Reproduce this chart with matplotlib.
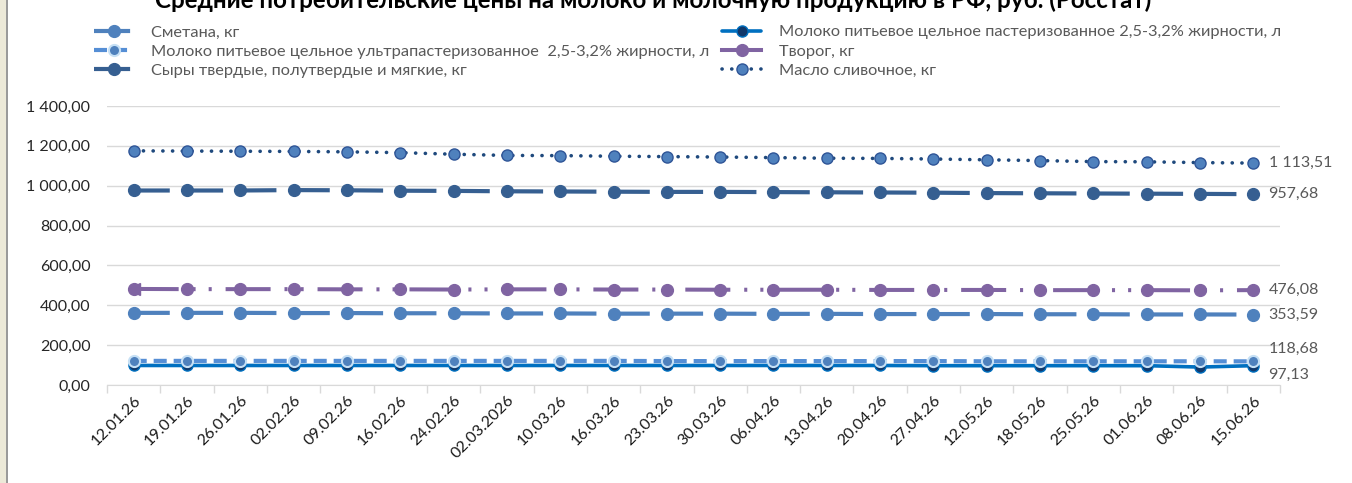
import matplotlib
matplotlib.use("Agg")
import matplotlib.pyplot as plt
from matplotlib.lines import Line2D
from matplotlib.patches import Rectangle
from matplotlib.ticker import FuncFormatter, FixedLocator

plt.rcParams['font.family'] = ['Lato', 'DejaVu Sans']
plt.rcParams['lines.scale_dashes'] = False

dates = ["12.01.26", "19.01.26", "26.01.26", "02.02.26", "09.02.26", "16.02.26",
         "24.02.26", "02.03.2026", "10.03.26", "16.03.26", "23.03.26", "30.03.26",
         "06.04.26", "13.04.26", "20.04.26", "27.04.26", "12.05.26", "18.05.26",
         "25.05.26", "01.06.26", "08.06.26", "15.06.26"]

smetana = [362, 362, 362, 361, 361, 360, 360, 359, 359, 358, 358, 358,
           357, 357, 356, 356, 356, 355, 355, 354, 354, 353.59]
milk_past = [98, 98, 98, 98, 98, 98, 98, 98, 98, 98, 98, 98,
             98, 98, 98, 97, 97, 97, 97, 97, 90, 97.13]
milk_uht = [121, 121, 121, 121, 121, 121, 121, 121, 121, 121, 120, 120,
            120, 120, 120, 120, 119, 119, 119, 119, 119, 118.68]
tvorog = [482, 481, 481, 481, 480, 480, 479, 480, 480, 479, 479, 478,
          478, 478, 477, 477, 477, 476, 476, 476, 475, 476.08]
cheese = [976, 976, 976, 978, 977, 975, 974, 972, 971, 970, 969, 969,
          968, 967, 966, 965, 963, 962, 961, 960, 959, 957.68]
butter = [1175, 1174, 1173, 1172, 1170, 1166, 1158, 1152, 1151, 1148, 1146, 1144,
          1141, 1138, 1137, 1134, 1130, 1126, 1121, 1120, 1116, 1113.51]

names = ["Сметана, кг",
         "Молоко питьевое цельное пастеризованное 2,5-3,2% жирности, л",
         "Молоко питьевое цельное ультрапастеризованное  2,5-3,2% жирности, л",
         "Творог, кг",
         "Сыры твердые, полутвердые и мягкие, кг",
         "Масло сливочное, кг"]

x = list(range(len(dates)))

fig = plt.figure(figsize=(13.52, 4.83), dpi=100)
fig.patch.set_facecolor("white")
fig.patches.append(Rectangle((0, 0), 6 / 1352, 1, transform=fig.transFigure,
                             facecolor="#ECE9D8", edgecolor="none", zorder=0))
fig.patches.append(Rectangle((6 / 1352, 0), 2 / 1352, 1, transform=fig.transFigure,
                             facecolor="#9A9A9A", edgecolor="none", zorder=0))

ax = fig.add_axes([107 / 1352, 1 - 385 / 483, 1173 / 1352, 279 / 483])

l_sm, = ax.plot(x, smetana, color="#4F81BD", lw=3.0, dashes=(26, 12.4),
                marker="o", ms=8.5, mfc="#4F81BD", mec="#4F81BD", zorder=3)
l_mp, = ax.plot(x, milk_past, color="#0070C0", lw=2.6, solid_capstyle="round",
                marker="o", ms=8, mfc="#10386B", mec="#0070C0", mew=1, zorder=3)
l_mu, = ax.plot(x, milk_uht, color="#558ED5", lw=3.0, dashes=(9.4, 5),
                marker="o", ms=8, mfc="#4F81BD", mec="#C6E0F5", mew=1.5, zorder=4)
l_tv, = ax.plot(x, tvorog, color="#8064A2", lw=2.9,
                dashes=(32.4, 10, 2.2, 9.4, 2.2, 10),
                marker="o", ms=8.5, mfc="#8064A2", mec="#8064A2", zorder=3)
ax.plot(x, tvorog, color="#8064A2", lw=0, marker="<", ms=9,
        markevery=[0], zorder=3)
l_ch, = ax.plot(x, cheese, color="#365F91", lw=3.0, dashes=(26, 12.4),
                marker="o", ms=8.5, mfc="#365F91", mec="#365F91", zorder=3)
l_bu, = ax.plot(x, butter, color="#1F497D", lw=2.6, dashes=(0.1, 6.9),
                dash_capstyle="round",
                marker="o", ms=8, mfc="#4F81BD", mec="#2F5597", mew=1, zorder=3)

ax.set_xlim(-0.5, len(dates) - 0.5)
ax.set_ylim(0, 1400)
ax.set_yticks(range(0, 1401, 200))


def rus(v, pos):
    s = "{:,.2f}".format(v)
    return s.replace(",", " ").replace(".", ",")


ax.yaxis.set_major_formatter(FuncFormatter(rus))
ax.grid(axis="y", color="#D9D9D9", lw=1)
ax.set_axisbelow(True)
for s in ["top", "right", "left"]:
    ax.spines[s].set_visible(False)
ax.spines["bottom"].set_color("#D9D9D9")
ax.tick_params(axis="y", length=0, pad=12, labelsize=11.5, labelcolor="#262626")

ax.set_xticks(x)
ax.set_xticklabels(dates, rotation=45, ha="right", rotation_mode="anchor",
                   fontsize=11.5, color="#1A1A1A")
ax.tick_params(axis="x", which="major", length=0, pad=6)
ax.xaxis.set_minor_locator(FixedLocator([i - 0.5 for i in range(len(dates) + 1)]))
ax.tick_params(axis="x", which="minor", length=6, color="#D9D9D9", width=1)

# подписи последних значений
end_off = [0, -7, 9, 0, 0, 0]
for ser, dy in zip([smetana, milk_past, milk_uht, tvorog, cheese, butter], end_off):
    ax.annotate(rus(ser[-1], None), (x[-1], ser[-1]), xytext=(11, dy),
                textcoords="offset points", va="center", ha="left",
                fontsize=11.5, color="#595959", annotation_clip=False)

tvorog_h = Line2D([], [], color="#8064A2", lw=2.9, marker="o", ms=8.5,
                  mfc="#8064A2", mec="#8064A2")
leg_kw = dict(frameon=False, fontsize=11.8, labelcolor="#595959", handlelength=2.4,
              handletextpad=1.1, labelspacing=0.28, borderaxespad=0, borderpad=0,
              numpoints=1)
fig.legend([l_sm, l_mu, l_ch], [names[0], names[2], names[4]],
           loc="upper left", bbox_to_anchor=(94 / 1352, 1 - 25 / 483), **leg_kw)
fig.legend([l_mp, tvorog_h, l_bu], [names[1], names[3], names[5]],
           loc="upper left", bbox_to_anchor=(722 / 1352, 1 - 25 / 483), **leg_kw)

fig.text(653 / 1352, 1 - 8 / 483,
         "Средние потребительские цены на молоко и молочную продукцию в РФ, руб. (Росстат)",
         ha="center", va="baseline", fontsize=17.4, fontweight="bold", color="black")

fig.savefig("out.png", dpi=100)
